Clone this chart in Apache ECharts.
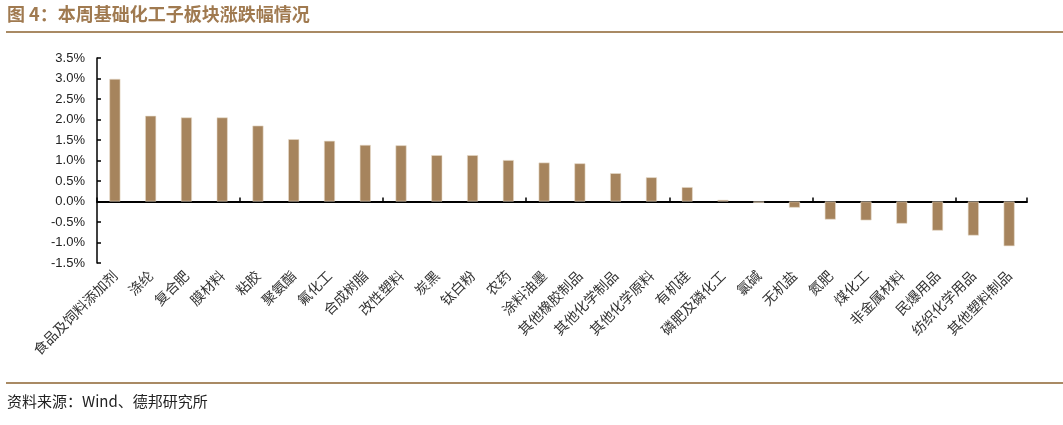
<!DOCTYPE html>
<html><head><meta charset="utf-8">
<script src="https://cdn.jsdelivr.net/npm/echarts@6/dist/echarts.min.js"></script>
<style>html,body{margin:0;padding:0;background:#fff}#c{width:1063px;height:425px}</style>
</head><body><div id="c"></div>
<script>
const categories = ['食品及饲料添加剂','涤纶','复合肥','膜材料','粘胶','聚氨酯','氟化工','合成树脂','改性塑料','炭黑','钛白粉','农药','涂料油墨','其他橡胶制品','其他化学制品','其他化学原料','有机硅','磷肥及磷化工','氯碱','无机盐','氮肥','煤化工','非金属材料','民爆用品','纺织化学用品','其他塑料制品'];
const values = [2.99, 2.09, 2.05, 2.05, 1.85, 1.52, 1.48, 1.38, 1.37, 1.13, 1.13, 1.01, 0.95, 0.93, 0.69, 0.59, 0.35, 0.04, -0.03, -0.15, -0.44, -0.46, -0.54, -0.71, -0.83, -1.09];
const yTicks = {min: -1.5, max: 3.5, interval: 0.5};
const title = '图 4：本周基础化工子板块涨跌幅情况';
const source = '资料来源：Wind、德邦研究所';

const chart = echarts.init(document.getElementById('c'));
const brown = '#a6845d';
chart.setOption({
  animation: false,
  grid: {left: 97, right: 36, top: 58, bottom: 162},
  graphic: [
    {type: 'text', left: 7, top: 5, style: {text: title, fill: '#a07a50', font: 'bold 18px "Noto Sans CJK SC"'}},
    {type: 'rect', shape: {x: 6, y: 31, width: 1057, height: 2}, style: {fill: '#a98a64'}},
    {type: 'rect', shape: {x: 6, y: 382, width: 1057, height: 2}, style: {fill: '#a98a64'}},
    {type: 'text', left: 7, top: 394, style: {text: source, fill: '#222', font: '15px "Noto Sans CJK SC"'}}
  ],
  xAxis: [
    {type: 'category', data: categories, position: 'bottom',
     axisLine: {show: false, onZero: false}, axisTick: {show: false},
     axisLabel: {rotate: 45, interval: 0, margin: 10, color: '#333', fontSize: 14, fontFamily: '"Noto Sans CJK SC"'}},
    {type: 'category', data: categories, position: 'top',
     axisLine: {show: true, onZero: true, lineStyle: {color: '#000', width: 2}},
     axisTick: {show: true, inside: false, length: 4, lineStyle: {color: '#000', width: 1.5}},
     axisLabel: {show: false}}
  ],
  yAxis: {type: 'value', min: yTicks.min, max: yTicks.max, interval: yTicks.interval,
    axisLine: {show: true, lineStyle: {color: '#000', width: 1.5}},
    axisTick: {show: true, inside: true, length: 4, lineStyle: {color: '#000', width: 1.5}},
    splitLine: {show: false},
    axisLabel: {formatter: v => v.toFixed(1) + '%', color: '#222', fontSize: 13, fontFamily: '"Liberation Sans"', margin: 12}},
  series: [{type: 'bar', data: values, barWidth: 11, xAxisIndex: 0,
    itemStyle: {color: brown, borderColor: '#e8dccb', borderWidth: 0.6}}]
});
</script></body></html>
